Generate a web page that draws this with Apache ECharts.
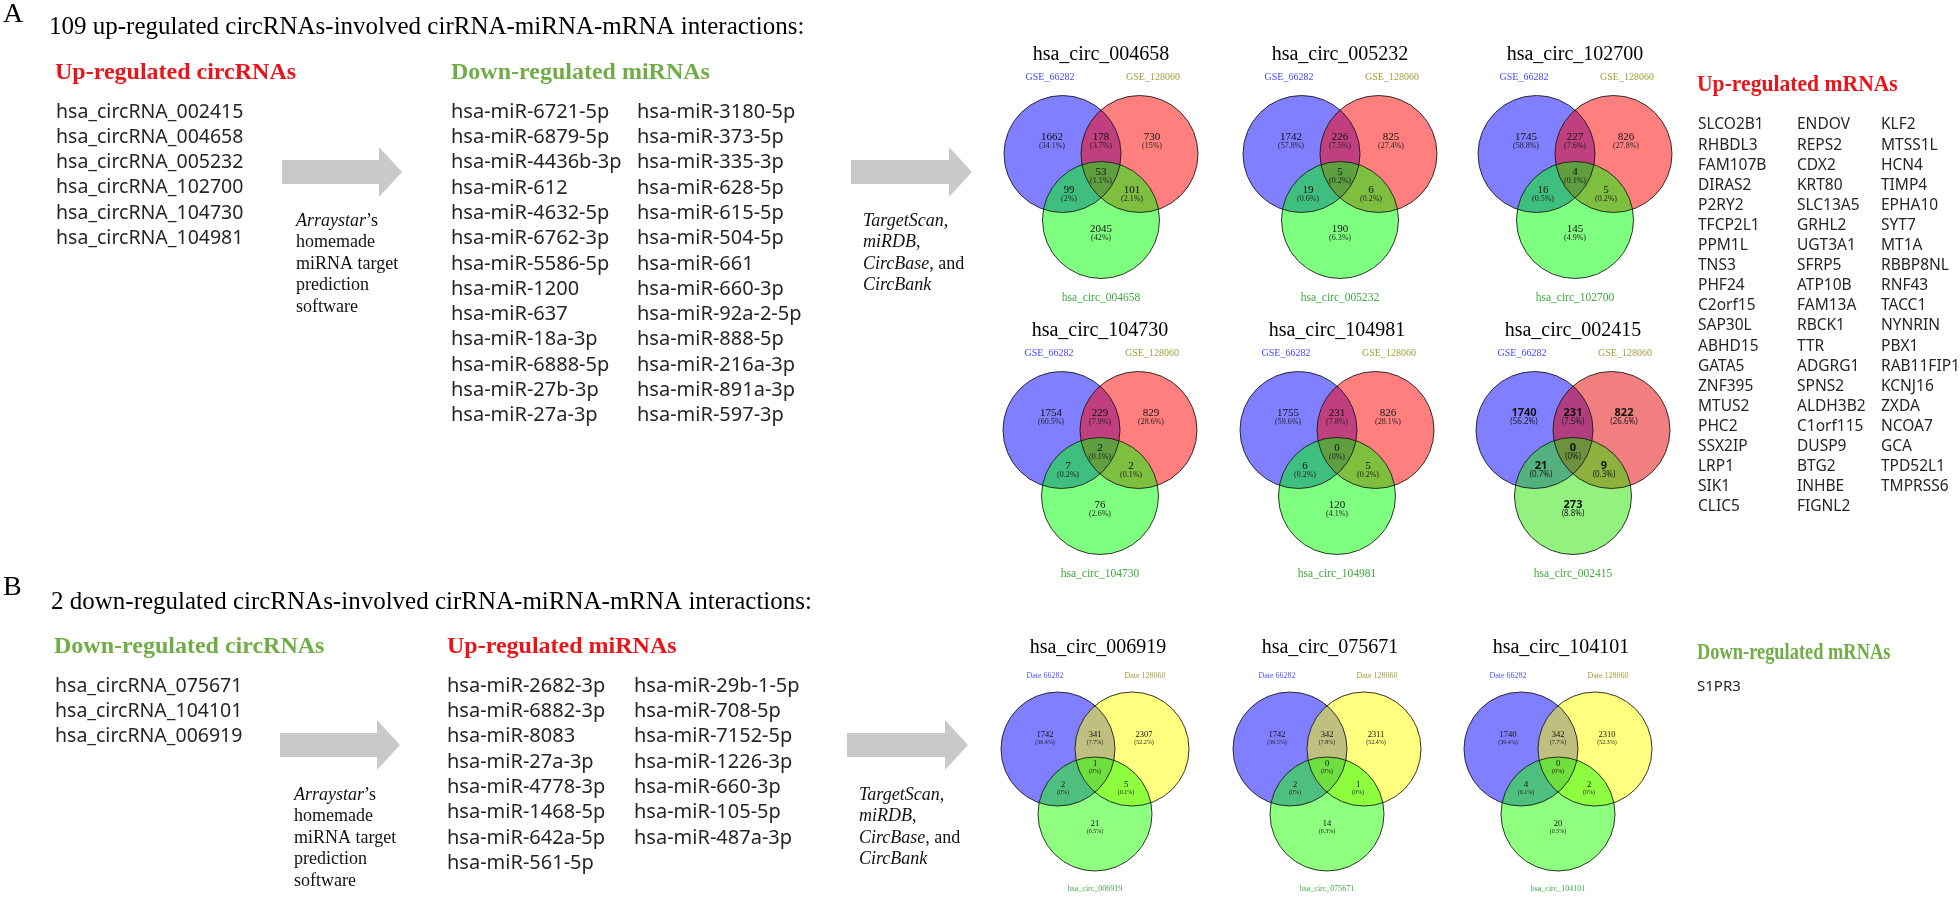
<!DOCTYPE html>
<html><head><meta charset="utf-8">
<script src="https://cdn.jsdelivr.net/npm/echarts@6/dist/echarts.min.js"></script>
<style>html,body{margin:0;padding:0;background:#fff}#c{width:1960px;height:897px}</style>
</head><body><div id="c"></div><script>
// ---------------- DATA ----------------
const upCircRNAs = ['hsa_circRNA_002415','hsa_circRNA_004658','hsa_circRNA_005232','hsa_circRNA_102700','hsa_circRNA_104730','hsa_circRNA_104981'];
const downMiRNAsCol1 = ['hsa-miR-6721-5p','hsa-miR-6879-5p','hsa-miR-4436b-3p','hsa-miR-612','hsa-miR-4632-5p','hsa-miR-6762-3p','hsa-miR-5586-5p','hsa-miR-1200','hsa-miR-637','hsa-miR-18a-3p','hsa-miR-6888-5p','hsa-miR-27b-3p','hsa-miR-27a-3p'];
const downMiRNAsCol2 = ['hsa-miR-3180-5p','hsa-miR-373-5p','hsa-miR-335-3p','hsa-miR-628-5p','hsa-miR-615-5p','hsa-miR-504-5p','hsa-miR-661','hsa-miR-660-3p','hsa-miR-92a-2-5p','hsa-miR-888-5p','hsa-miR-216a-3p','hsa-miR-891a-3p','hsa-miR-597-3p'];
const upMRNAsCol1 = ['SLCO2B1','RHBDL3','FAM107B','DIRAS2','P2RY2','TFCP2L1','PPM1L','TNS3','PHF24','C2orf15','SAP30L','ABHD15','GATA5','ZNF395','MTUS2','PHC2','SSX2IP','LRP1','SIK1','CLIC5'];
const upMRNAsCol2 = ['ENDOV','REPS2','CDX2','KRT80','SLC13A5','GRHL2','UGT3A1','SFRP5','ATP10B','FAM13A','RBCK1','TTR','ADGRG1','SPNS2','ALDH3B2','C1orf115','DUSP9','BTG2','INHBE','FIGNL2'];
const upMRNAsCol3 = ['KLF2','MTSS1L','HCN4','TIMP4','EPHA10','SYT7','MT1A','RBBP8NL','RNF43','TACC1','NYNRIN','PBX1','RAB11FIP1','KCNJ16','ZXDA','NCOA7','GCA','TPD52L1','TMPRSS6'];
const downCircRNAs = ['hsa_circRNA_075671','hsa_circRNA_104101','hsa_circRNA_006919'];
const upMiRNAsCol1 = ['hsa-miR-2682-3p','hsa-miR-6882-3p','hsa-miR-8083','hsa-miR-27a-3p','hsa-miR-4778-3p','hsa-miR-1468-5p','hsa-miR-642a-5p','hsa-miR-561-5p'];
const upMiRNAsCol2 = ['hsa-miR-29b-1-5p','hsa-miR-708-5p','hsa-miR-7152-5p','hsa-miR-1226-3p','hsa-miR-660-3p','hsa-miR-105-5p','hsa-miR-487a-3p'];
const downMRNAs = ['S1PR3'];

const vennNamesA = ['hsa_circ_004658','hsa_circ_005232','hsa_circ_102700','hsa_circ_104730','hsa_circ_104981','hsa_circ_002415'];
const vennNamesB = ['hsa_circ_006919','hsa_circ_075671','hsa_circ_104101'];
const setLabelsA = ['GSE_66282','GSE_128060'];
const setLabelsB = ['Date 66282','Date 128060'];
// region order: only set1, set1&2, only set2, all three, set1&3, set2&3, only set3
const counts004658 = [1662,178,730,53,99,101,2045];
const pct004658    = [34.1,3.7,15,1.1,2,2.1,42];
const counts005232 = [1742,226,825,5,19,6,190];
const pct005232    = [57.8,7.5,27.4,0.2,0.6,0.2,6.3];
const counts102700 = [1745,227,826,4,16,5,145];
const pct102700    = [58.8,7.6,27.8,0.1,0.5,0.2,4.9];
const counts104730 = [1754,229,829,2,7,2,76];
const pct104730    = [60.5,7.9,28.6,0.1,0.2,0.1,2.6];
const counts104981 = [1755,231,826,0,6,5,120];
const pct104981    = [59.6,7.8,28.1,0,0.2,0.2,4.1];
const counts002415 = [1740,231,822,0,21,9,273];
const pct002415    = [56.2,7.5,26.6,0,0.7,0.3,8.8];
const counts006919 = [1742,341,2307,1,2,5,21];
const pct006919    = [39.4,7.7,52.2,0,0,0.1,0.5];
const counts075671 = [1742,342,2311,0,2,1,14];
const pct075671    = [39.5,7.8,52.4,0,0,0,0.3];
const counts104101 = [1740,342,2310,0,4,2,20];
const pct104101    = [39.4,7.7,52.3,0,0.1,0,0.5];

// ---------------- LAYOUT ----------------
const SERIF = '"Liberation Serif","Times New Roman",serif';
const SANS = '"Noto Sans","Open Sans",sans-serif';
const RED = '#E8161B', GREEN = '#70AD47', TXT = '#262626';

const venns = [
  {name:vennNamesA[0], counts:counts004658, pct:pct004658, cx:1101, cy:154, kind:'A'},
  {name:vennNamesA[1], counts:counts005232, pct:pct005232, cx:1340, cy:154, kind:'A'},
  {name:vennNamesA[2], counts:counts102700, pct:pct102700, cx:1575, cy:154, kind:'A'},
  {name:vennNamesA[3], counts:counts104730, pct:pct104730, cx:1100, cy:430, kind:'A'},
  {name:vennNamesA[4], counts:counts104981, pct:pct104981, cx:1337, cy:430, kind:'A'},
  {name:vennNamesA[5], counts:counts002415, pct:pct002415, cx:1573, cy:430, kind:'A2'},
  {name:vennNamesB[0], counts:counts006919, pct:pct006919, cx:1095, cy:749, kind:'B'},
  {name:vennNamesB[1], counts:counts075671, pct:pct075671, cx:1327, cy:749, kind:'B'},
  {name:vennNamesB[2], counts:counts104101, pct:pct104101, cx:1558, cy:749, kind:'B'}
];
const geom = {
  A:  {r:58.5, c:[[-38.5,0],[38.5,0],[0,66]], reg:[[-49,-17],[0,-17],[51,-17],[0,18],[-32,36],[31,36],[0,75]],
       fills:['rgba(0,0,255,0.5)','rgba(255,0,0,0.5)','rgba(0,255,0,0.5)']},
  A2: {r:58.5, c:[[-38.5,0],[38.5,0],[0,66]], reg:[[-49,-17],[0,-17],[51,-17],[0,18],[-32,36],[31,36],[0,75]],
       fills:['rgba(0,0,255,0.5)','rgba(228,0,0,0.5)','rgba(40,228,0,0.5)']},
  B:  {r:57, c:[[-37,0],[37,0],[0,65]], reg:[[-50,-14],[0,-14],[49,-14],[0,15],[-32,36],[31,36],[0,75]],
       fills:['rgba(0,0,255,0.5)','rgba(255,255,0,0.5)','rgba(30,255,0,0.5)']}
};
const labelStyles = {
  A:  {nFont:'normal 11px '+SERIF, pFont:'normal 8px '+SERIF, gap:9},
  A2: {nFont:'bold 11px '+SANS, pFont:'normal 8px '+SANS, gap:9},
  B:  {nFont:'normal 8.5px '+SERIF, pFont:'normal 6px '+SERIF, gap:7}
};

const circleData = [], circleFills = [];
const labelData = {A:[], A2:[], B:[]};
venns.forEach(v => {
  const g = geom[v.kind];
  g.c.forEach((o,i) => { circleData.push([v.cx+o[0], v.cy+o[1], g.r]); circleFills.push(g.fills[i]); });
  g.reg.forEach((o,i) => { labelData[v.kind].push([v.cx+o[0], v.cy+o[1], v.counts[i], v.pct[i]]); });
});

// ---------------- GRAPHIC TEXT ----------------
const G = [];
function txt(x, y, text, font, fill, extra, el) {
  G.push(Object.assign({type:'text', x:x, y:y, silent:true,
    style:Object.assign({text:text, font:font, fill:fill||TXT, textAlign:'left', textVerticalAlign:'middle', align:'left', verticalAlign:'middle'}, extra||{})}, el||{}));
}
function txtC(x, y, text, font, fill) { txt(x, y, text, font, fill, {textAlign:'center', align:'center'}); }
function list(x, y0, step, arr, font) { arr.forEach((s,i) => txt(x, y0 + i*step, s, font, TXT)); }
function arrow(x0, x1, yc) {
  const hb = x1 - 23;
  G.push({type:'polygon', silent:true, shape:{points:[[x0,yc-12],[hb,yc-12],[hb,yc-25],[x1,yc],[hb,yc+25],[hb,yc+12],[x0,yc+12]]}, style:{fill:'#C9C9C9'}});
}
function richLines(x, y0, step, lines) {
  lines.forEach((s,i) => G.push({type:'text', x:x, y:y0+i*step, silent:true,
    style:{text:s, font:'normal 18px '+SERIF, fill:'#111', textVerticalAlign:'middle', verticalAlign:'middle',
      rich:{i:{fontStyle:'italic', fontSize:18, fontFamily:SERIF, fill:'#111', color:'#111'}}}}));
}

// Panel A
txt(3, 15, 'A', 'normal 28px '+SERIF, '#000');
txt(49, 27, '109 up-regulated circRNAs-involved cirRNA-miRNA-mRNA interactions:', 'normal 25px '+SERIF, '#000');
txt(55, 73, 'Up-regulated circRNAs', 'bold 24px '+SERIF, RED);
txt(451, 73, 'Down-regulated miRNAs', 'bold 24px '+SERIF, GREEN);
list(56, 112, 25.3, upCircRNAs, 'normal 19.5px '+SANS);
list(451, 112, 25.3, downMiRNAsCol1, 'normal 20px '+SANS);
list(637, 112, 25.3, downMiRNAsCol2, 'normal 20px '+SANS);
arrow(282, 402, 172);
richLines(296, 221, 21.5, ['{i|Arraystar}’s','homemade','miRNA target','prediction','software']);
arrow(851, 972, 172);
richLines(863, 221, 21.5, ['{i|TargetScan},','{i|miRDB},','{i|CircBase}, and','{i|CircBank}']);
txt(1697, 85, 'Up-regulated mRNAs', 'bold 23px '+SERIF, RED, null, {scaleX:0.94});
list(1698, 125, 20.1, upMRNAsCol1, 'normal 15.5px '+SANS);
list(1797, 125, 20.1, upMRNAsCol2, 'normal 15.5px '+SANS);
list(1881, 125, 20.1, upMRNAsCol3, 'normal 15.5px '+SANS);

// Panel B
txt(3, 588, 'B', 'normal 28px '+SERIF, '#000');
txt(51, 602, '2 down-regulated circRNAs-involved cirRNA-miRNA-mRNA interactions:', 'normal 25px '+SERIF, '#000');
txt(54, 647, 'Down-regulated circRNAs', 'bold 24px '+SERIF, GREEN);
txt(447, 647, 'Up-regulated miRNAs', 'bold 24px '+SERIF, RED);
list(55, 686, 25.3, downCircRNAs, 'normal 19.5px '+SANS);
list(447, 686, 25.3, upMiRNAsCol1, 'normal 20px '+SANS);
list(634, 686, 25.3, upMiRNAsCol2, 'normal 20px '+SANS);
arrow(280, 400, 745);
richLines(294, 795, 21.5, ['{i|Arraystar}’s','homemade','miRNA target','prediction','software']);
arrow(847, 968, 745);
richLines(859, 795, 21.5, ['{i|TargetScan},','{i|miRDB},','{i|CircBase}, and','{i|CircBank}']);
txt(1697, 653, 'Down-regulated mRNAs', 'bold 23px '+SERIF, GREEN, null, {scaleX:0.8});
list(1697, 687, 20, downMRNAs, 'normal 15px '+SANS);

// Venn titles & set labels
venns.forEach(v => {
  if (v.kind === 'B') {
    txtC(v.cx+3, v.cy-101, v.name, 'normal 20px '+SERIF, '#000');
    txtC(v.cx-50, v.cy-73, setLabelsB[0], 'normal 8px '+SERIF, '#5050FF');
    txtC(v.cx+50, v.cy-73, setLabelsB[1], 'normal 8px '+SERIF, '#9E9E3A');
    txtC(v.cx, v.cy+140, v.name, 'normal 8px '+SERIF, '#3FA83F');
  } else {
    txtC(v.cx, v.cy-99, v.name, 'normal 20px '+SERIF, '#000');
    txtC(v.cx-51, v.cy-77, setLabelsA[0], 'normal 10px '+SERIF, '#4646FF');
    txtC(v.cx+52, v.cy-77, setLabelsA[1], 'normal 10px '+SERIF, '#9E9E3A');
    txtC(v.cx, v.cy+144, v.name, 'normal 11.5px '+SERIF, '#3FA83F');
  }
});

// ---------------- CHART ----------------
function circleSeries(fillMode, z) {
  return {type:'custom', silent:true, clip:false, data:circleData, encode:{x:0, y:1}, z:z,
    renderItem:(params, api) => {
      const c = api.coord([api.value(0), api.value(1)]);
      const r = api.size([api.value(2), 0])[0];
      const st = fillMode ? {fill:circleFills[params.dataIndex], stroke:null, lineWidth:0}
                          : {fill:null, stroke:'rgba(20,20,20,0.85)', lineWidth:1};
      return {type:'circle', shape:{cx:c[0], cy:c[1], r:r}, style:st};
    }};
}
function labelSeries(kind) {
  const ls = labelStyles[kind];
  return {type:'custom', silent:true, clip:false, data:labelData[kind], encode:{x:0, y:1}, z:6,
    renderItem:(params, api) => {
      const c = api.coord([api.value(0), api.value(1)]);
      return {type:'group', children:[
        {type:'text', x:c[0], y:c[1], style:{text:String(api.value(2)), font:ls.nFont, fill:'#111',
          textAlign:'center', align:'center', textVerticalAlign:'middle', verticalAlign:'middle'}},
        {type:'text', x:c[0], y:c[1]+ls.gap, style:{text:'(' + api.value(3) + '%)', font:ls.pFont, fill:'#222',
          textAlign:'center', align:'center', textVerticalAlign:'middle', verticalAlign:'middle'}}
      ]};
    }};
}

const chart = echarts.init(document.getElementById('c'), null, {renderer:'canvas'});
chart.setOption({
  animation:false,
  backgroundColor:'#ffffff',
  grid:{left:0, right:0, top:0, bottom:0},
  xAxis:{type:'value', min:0, max:1960, show:false},
  yAxis:{type:'value', min:0, max:897, inverse:true, show:false},
  graphic:{elements:G},
  series:[
    circleSeries(true, 2),
    circleSeries(false, 3),
    labelSeries('A'),
    labelSeries('A2'),
    labelSeries('B')
  ]
});
</script></body></html>
